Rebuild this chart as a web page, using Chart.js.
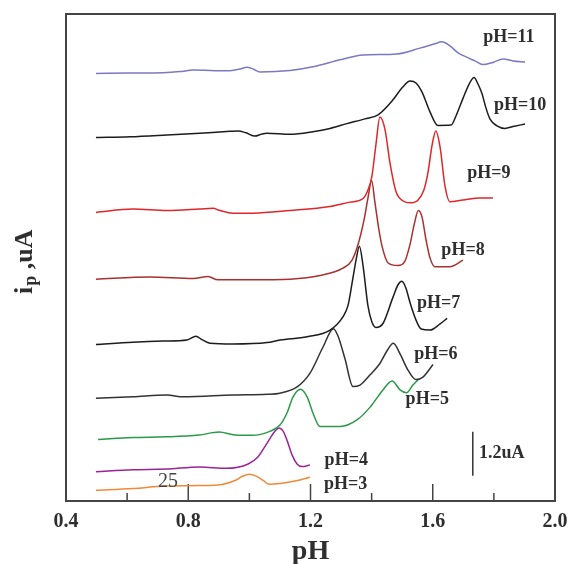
<!DOCTYPE html>
<html>
<head>
<meta charset="utf-8">
<script src="https://cdn.jsdelivr.net/npm/chart.js@4.4.1/dist/chart.umd.min.js"></script>
<style>
  html, body { margin: 0; padding: 0; background: #fff; }
  canvas { display: block; }
</style>
</head>
<body>
<canvas id="ph-chart" width="570" height="564"></canvas>
<script>
// curves: x in pH, y in uA (offset stacked)
const ph11X = [0.498, 0.609, 0.717, 0.773, 0.816, 0.927, 0.969, 0.992, 1.012, 1.035, 1.133, 1.208, 1.297, 1.372, 1.483, 1.558, 1.604, 1.630, 1.656, 1.683, 1.709, 1.738, 1.764, 1.797, 1.830, 1.863, 1.902];
const ph11Y = [11.66, 11.67, 11.68, 11.71, 11.75, 11.73, 11.78, 11.83, 11.78, 11.70, 11.74, 11.84, 12.03, 12.16, 12.19, 12.35, 12.46, 12.52, 12.41, 12.22, 12.11, 12.00, 11.90, 11.96, 12.05, 12.00, 11.97];

const ph10X = [0.498, 0.609, 0.730, 0.838, 0.937, 0.963, 0.989, 1.018, 1.041, 1.058, 1.133, 1.208, 1.264, 1.319, 1.378, 1.421, 1.470, 1.499, 1.526, 1.545, 1.565, 1.591, 1.617, 1.660, 1.676, 1.699, 1.719, 1.735, 1.748, 1.761, 1.774, 1.787, 1.810, 1.836, 1.863, 1.902];
const ph10Y = [9.91, 9.93, 9.98, 10.03, 10.08, 10.09, 10.04, 9.95, 10.01, 10.03, 10.00, 10.07, 10.16, 10.29, 10.42, 10.53, 10.94, 11.26, 11.45, 11.40, 11.15, 10.61, 10.24, 10.25, 10.50, 10.98, 11.37, 11.55, 11.37, 11.11, 10.72, 10.42, 10.23, 10.16, 10.21, 10.28];

const ph9X = [0.498, 0.619, 0.730, 0.838, 0.881, 0.904, 0.946, 1.012, 1.133, 1.264, 1.329, 1.372, 1.388, 1.401, 1.414, 1.427, 1.444, 1.460, 1.480, 1.503, 1.526, 1.552, 1.571, 1.584, 1.598, 1.610, 1.624, 1.640, 1.656, 1.699, 1.755, 1.797];
const ph9Y = [7.87, 7.96, 7.92, 7.96, 7.98, 7.92, 7.85, 7.85, 7.92, 8.03, 8.15, 8.25, 8.48, 8.86, 9.71, 10.47, 10.12, 9.22, 8.43, 8.18, 8.13, 8.21, 8.48, 8.94, 9.71, 10.09, 9.65, 8.59, 8.16, 8.21, 8.26, 8.26];

const ph8X = [0.498, 0.675, 0.816, 0.865, 0.897, 1.002, 1.133, 1.231, 1.306, 1.336, 1.355, 1.375, 1.388, 1.400, 1.411, 1.424, 1.434, 1.454, 1.486, 1.509, 1.526, 1.539, 1.553, 1.565, 1.578, 1.591, 1.607, 1.656, 1.699];
const ph8Y = [6.05, 6.11, 6.07, 6.12, 6.03, 6.03, 6.05, 6.15, 6.35, 6.57, 6.98, 7.66, 8.26, 8.74, 8.13, 7.39, 6.95, 6.49, 6.42, 6.54, 7.01, 7.53, 7.92, 7.74, 7.12, 6.63, 6.39, 6.39, 6.57];

const ph7X = [0.498, 0.619, 0.717, 0.796, 0.825, 0.845, 0.871, 0.946, 1.058, 1.100, 1.189, 1.264, 1.306, 1.323, 1.336, 1.349, 1.360, 1.372, 1.388, 1.401, 1.414, 1.437, 1.470, 1.486, 1.499, 1.512, 1.526, 1.545, 1.562, 1.591, 1.624, 1.647];
const ph7Y = [4.27, 4.33, 4.36, 4.39, 4.49, 4.40, 4.30, 4.28, 4.32, 4.39, 4.48, 4.66, 5.02, 5.34, 5.94, 6.57, 6.95, 6.41, 5.32, 4.88, 4.73, 4.84, 5.56, 5.89, 5.99, 5.81, 5.40, 4.94, 4.69, 4.66, 4.83, 4.98];

const ph6X = [0.498, 0.619, 0.730, 0.783, 0.946, 1.058, 1.100, 1.156, 1.198, 1.241, 1.275, 1.290, 1.313, 1.339, 1.362, 1.395, 1.427, 1.450, 1.471, 1.493, 1.519, 1.545, 1.568, 1.601];
const ph6Y = [2.80, 2.84, 2.89, 2.84, 2.89, 2.91, 2.94, 3.11, 3.48, 4.20, 4.70, 4.50, 3.87, 3.12, 3.16, 3.44, 3.75, 4.09, 4.30, 4.01, 3.57, 3.31, 3.38, 3.72];

const ph5X = [0.505, 0.619, 0.727, 0.835, 0.901, 0.953, 1.009, 1.067, 1.100, 1.123, 1.143, 1.167, 1.189, 1.208, 1.231, 1.297, 1.352, 1.395, 1.437, 1.467, 1.493, 1.514, 1.535, 1.552];
const ph5Y = [1.68, 1.73, 1.75, 1.80, 1.88, 1.80, 1.79, 1.90, 2.07, 2.40, 2.84, 3.05, 2.84, 2.40, 2.03, 2.03, 2.21, 2.56, 3.03, 3.27, 3.03, 2.95, 3.16, 3.31];

const ph4X = [0.498, 0.619, 0.727, 0.838, 0.924, 0.996, 1.028, 1.058, 1.084, 1.097, 1.110, 1.123, 1.140, 1.156, 1.172, 1.198];
const ph4Y = [0.80, 0.85, 0.87, 0.93, 0.89, 1.01, 1.20, 1.58, 1.91, 1.99, 1.91, 1.66, 1.25, 1.01, 0.94, 0.98];

const ph3X = [0.498, 0.619, 0.727, 0.838, 0.910, 0.953, 0.979, 1.000, 1.022, 1.045, 1.064, 1.100, 1.153, 1.198];
const ph3Y = [0.29, 0.34, 0.41, 0.42, 0.45, 0.56, 0.68, 0.73, 0.68, 0.56, 0.46, 0.48, 0.55, 0.65];

const curveColors = ["#7b78c4", "#1c1c1c", "#e0262a", "#a83030", "#1c1c1c", "#333333", "#2a9a48", "#9a2496", "#f08a3a"];

// curve labels
const labelText = ["pH=11", "pH=10", "pH=9", "pH=8", "pH=7", "pH=6", "pH=5", "pH=4", "pH=3"];
const labelX = [1.849, 1.886, 1.784, 1.699, 1.619, 1.610, 1.582, 1.317, 1.315];
const labelY = [12.65, 10.80, 8.94, 6.84, 5.39, 4.01, 2.77, 1.12, 0.46];

// 1.2 uA scale bar
const barX = [1.731, 1.731];
const barY = [0.69, 1.89];
const barText = "1.2uA";
const barTextX = 1.751;
const barTextY = 1.31;

const stray = { text: "25", x: 0.734, y: 0.53 };

const majorTicks = [0.4, 0.8, 1.2, 1.6];
const minorTicks = [0.6, 1.0, 1.4, 1.8];

const serif = "'Liberation Serif', 'Times New Roman', serif";

function pts(xs, ys) {
  return xs.map((x, i) => ({ x: x, y: ys[i] }));
}

const curves = [
  [ph11X, ph11Y], [ph10X, ph10Y], [ph9X, ph9Y], [ph8X, ph8Y], [ph7X, ph7Y],
  [ph6X, ph6Y], [ph5X, ph5Y], [ph4X, ph4Y], [ph3X, ph3Y],
];

const datasets = curves.map((c, i) => ({
  label: labelText[i],
  data: pts(c[0], c[1]),
  borderColor: curveColors[i],
  borderWidth: 1.5,
  pointRadius: 0,
  fill: false,
  cubicInterpolationMode: "monotone",
}));

datasets.push({
  label: barText,
  data: pts(barX, barY),
  borderColor: "#333",
  borderWidth: 1.5,
  pointRadius: 0,
  fill: false,
});

const frameAndText = {
  id: "frameAndText",
  beforeDatasetsDraw(chart) {
    const { ctx, chartArea: a, scales } = chart;
    ctx.save();
    ctx.strokeStyle = "#444";
    ctx.lineWidth = 2;
    ctx.strokeRect(a.left, a.top, a.right - a.left, a.bottom - a.top);
    ctx.lineWidth = 1.5;
    ctx.beginPath();
    majorTicks.forEach((v) => {
      const px = scales.x.getPixelForValue(v);
      ctx.moveTo(px, a.bottom);
      ctx.lineTo(px, a.bottom - 17);
    });
    minorTicks.forEach((v) => {
      const px = scales.x.getPixelForValue(v);
      ctx.moveTo(px, a.bottom);
      ctx.lineTo(px, a.bottom - 8);
    });
    ctx.stroke();
    ctx.restore();
  },
  afterDatasetsDraw(chart) {
    const { ctx, scales } = chart;
    const x = scales.x, y = scales.y;
    ctx.save();
    ctx.fillStyle = "#2e2e2e";
    ctx.textBaseline = "middle";
    ctx.textAlign = "center";
    ctx.font = "bold 18px " + serif;
    labelText.forEach((t, i) => {
      ctx.fillText(t, x.getPixelForValue(labelX[i]), y.getPixelForValue(labelY[i]));
    });
    ctx.textAlign = "left";
    ctx.fillText(barText, x.getPixelForValue(barTextX), y.getPixelForValue(barTextY));

    ctx.textAlign = "center";
    ctx.fillStyle = "#444";
    ctx.font = "20px " + serif;
    ctx.fillText(stray.text, x.getPixelForValue(stray.x), y.getPixelForValue(stray.y));

    // rotated y title: i_p ,uA
    ctx.fillStyle = "#2e2e2e";
    ctx.translate(32, 294);
    ctx.rotate(-Math.PI / 2);
    ctx.textAlign = "left";
    ctx.textBaseline = "alphabetic";
    ctx.font = "bold 26px " + serif;
    ctx.fillText("i", 0, 0);
    let off = ctx.measureText("i").width + 1;
    ctx.font = "bold 18px " + serif;
    ctx.fillText("p", off, 4);
    off += ctx.measureText("p").width;
    ctx.font = "bold 26px " + serif;
    ctx.fillText(" ,uA", off, 0);
    ctx.restore();
  },
};

new Chart(document.getElementById("ph-chart").getContext("2d"), {
  type: "line",
  data: { datasets: datasets },
  options: {
    responsive: false,
    animation: false,
    layout: {
      autoPadding: false,
      padding: { left: 66, top: 14, right: 15, bottom: 0 },
    },
    plugins: {
      legend: { display: false },
      tooltip: { enabled: false },
    },
    scales: {
      x: {
        type: "linear",
        min: 0.4,
        max: 2.0,
        grid: { display: false, drawTicks: false },
        border: { display: false },
        ticks: {
          stepSize: 0.4,
          padding: 9,
          color: "#2e2e2e",
          font: { family: serif, size: 20, weight: "bold" },
          callback: (v) => Number(v).toFixed(1),
        },
        title: {
          display: true,
          text: "pH",
          color: "#2e2e2e",
          font: { family: serif, size: 28, weight: "bold", lineHeight: 0.6 },
          padding: { top: 0.6, bottom: 3.6 },
        },
        afterFit: (scale) => {
          // keep the edge tick labels from pushing the plot area inward
          scale.paddingLeft = 0;
          scale.paddingRight = 0;
        },
      },
      y: {
        type: "linear",
        display: false,
        min: 0,
        max: 13.28,
      },
    },
  },
  plugins: [frameAndText],
});
</script>
</body>
</html>
